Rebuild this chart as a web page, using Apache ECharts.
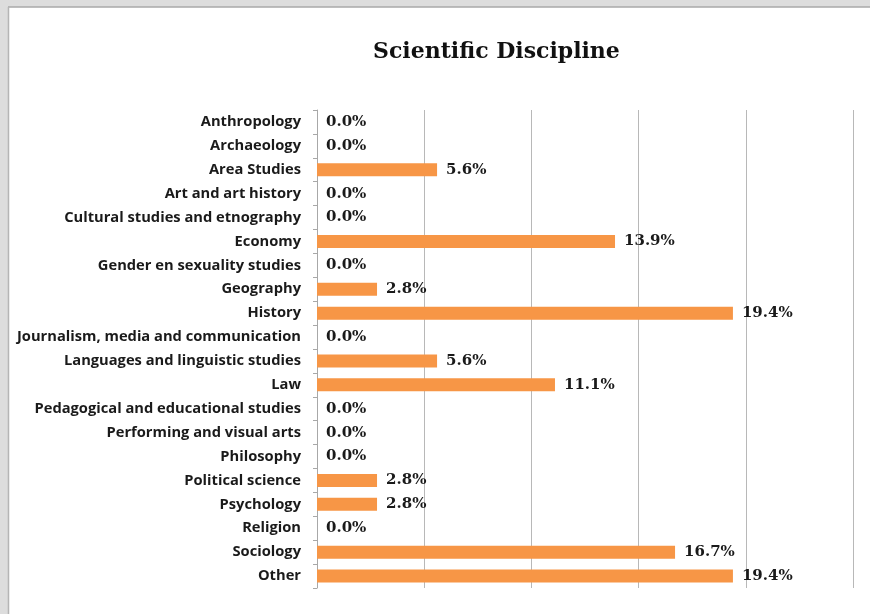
<!DOCTYPE html>
<html>
<head>
<meta charset="utf-8">
<script src="https://cdn.jsdelivr.net/npm/echarts@6/dist/echarts.min.js"></script>
<style>
  html, body { margin: 0; padding: 0; background: #ffffff; }
  #chart { width: 870px; height: 614px; }
</style>
</head>
<body>
<div id="chart"></div>
<script>
// Share of publications per scientific discipline (percent)
const disciplines = [
  'Anthropology',
  'Archaeology',
  'Area Studies',
  'Art and art history',
  'Cultural studies and etnography',
  'Economy',
  'Gender en sexuality studies',
  'Geography',
  'History',
  'Journalism, media and communication',
  'Languages and linguistic studies',
  'Law',
  'Pedagogical and educational studies',
  'Performing and visual arts',
  'Philosophy',
  'Political science',
  'Psychology',
  'Religion',
  'Sociology',
  'Other'
];
const shares = [0.0, 0.0, 5.6, 0.0, 0.0, 13.9, 0.0, 2.8, 19.4, 0.0, 5.6, 11.1, 0.0, 0.0, 0.0, 2.8, 2.8, 0.0, 16.7, 19.4];

const chart = echarts.init(document.getElementById('chart'), null, { renderer: 'canvas' });

const option = {
  backgroundColor: '#ffffff',
  animation: false,
  title: {
    text: 'Scientific Discipline',
    left: 368,
    top: 36,
    textStyle: {
      fontFamily: '"DejaVu Serif", serif',
      fontWeight: 'bold',
      fontSize: 22,
      color: '#111111'
    }
  },
  graphic: [
    // window frame around the sheet
    { type: 'rect', shape: { x: 0, y: 0, width: 870, height: 7 }, style: { fill: '#dddddd' }, silent: true },
    { type: 'rect', shape: { x: 0, y: 0, width: 8, height: 614 }, style: { fill: '#dddddd' }, silent: true },
    { type: 'line', shape: { x1: 8, y1: 7, x2: 870, y2: 7 }, style: { stroke: '#a9a9a9', lineWidth: 1.5 }, silent: true },
    { type: 'line', shape: { x1: 8.5, y1: 7, x2: 8.5, y2: 614 }, style: { stroke: '#b5b5b5', lineWidth: 1.5 }, silent: true }
  ],
  grid: {
    left: 317,
    right: 17,
    top: 110,
    bottom: 26,
    containLabel: false
  },
  xAxis: {
    type: 'value',
    min: 0,
    max: 25,
    interval: 5,
    axisLabel: { show: false },
    axisLine: { show: false },
    axisTick: { show: false },
    splitLine: { show: true, lineStyle: { color: '#b8b8b8', width: 1 } }
  },
  yAxis: {
    type: 'category',
    inverse: true,
    data: disciplines,
    axisLine: { show: true, lineStyle: { color: '#a8a8a8', width: 1 } },
    axisTick: { show: true, length: 4, lineStyle: { color: '#a8a8a8' } },
    axisLabel: {
      margin: 16,
      padding: [2, 0, 0, 0],
      fontFamily: '"Open Sans", sans-serif',
      fontWeight: 'bold',
      fontSize: 14.7,
      color: '#1a1a1a'
    }
  },
  series: [{
    type: 'bar',
    data: shares,
    barWidth: 13,
    itemStyle: { color: '#f79646' },
    label: {
      show: true,
      position: 'right',
      distance: 9,
      formatter: p => p.value.toFixed(1) + '%',
      fontFamily: '"DejaVu Serif", serif',
      fontWeight: 'bold',
      fontSize: 15,
      color: '#1a1a1a'
    }
  }]
};

chart.setOption(option);
</script>
</body>
</html>
